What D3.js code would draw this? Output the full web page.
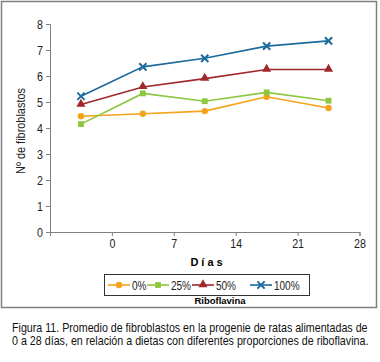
<!DOCTYPE html>
<html>
<head>
<meta charset="utf-8">
<script src="https://cdn.jsdelivr.net/npm/d3@7"></script>
<style>
  body { margin: 0; background: #fff; }
  svg { display: block; }
  text { font-family: "Liberation Sans", Arial, sans-serif; }
</style>
</head>
<body>
<div id="wrapper"></div>
<script>
// datos
const dias = [-3.5, 3.5, 10.5, 17.5, 24.5];
const xTicks = [0, 7, 14, 21, 28];
const yTicks = [0, 1, 2, 3, 4, 5, 6, 7, 8];
const seriesNames = ["0%", "25%", "50%", "100%"];
const serie0 = [4.45, 4.55, 4.65, 5.2, 4.77];
const serie25 = [4.15, 5.33, 5.03, 5.37, 5.05];
const serie50 = [4.9, 5.58, 5.9, 6.25, 6.25];
const serie100 = [5.22, 6.35, 6.68, 7.15, 7.35];
const colores = ["#f4a31b", "#8dc63f", "#a0282c", "#1d6a9c"];

// letra estrecha (tipo Arial Narrow) comprimiendo el texto
function narrow(sel, factor) {
    sel.each(function () {
        const w = this.getComputedTextLength();
        d3.select(this)
            .attr("textLength", w * factor)
            .attr("lengthAdjust", "spacingAndGlyphs");
    });
}

function buildPlot(id) {
    const dimension = {
        width: 380,
        height: 362,
        margin: { top: 24, left: 50, bottom: 130, right: 20 }
    };

    const svg = d3.select("#" + id).append("svg")
        .attr("width", dimension.width)
        .attr("height", dimension.height);

    // marco
    svg.append("rect")
        .attr("x", 1.5).attr("y", 1.5)
        .attr("width", 375).attr("height", 306)
        .attr("fill", "none")
        .attr("stroke", "#808080")
        .attr("stroke-width", 1.5);

    const bounded = svg.append("g")
        .attr("transform", `translate(${dimension.margin.left},${dimension.margin.top})`);

    const xScaler = d3.scaleLinear().domain([-7, 28]).range([0, 309.5]);
    const yScaler = d3.scaleLinear().domain([0, 8]).range([208, 0]);

    const xAxis = d3.axisBottom(xScaler).tickValues(xTicks).tickSize(4).tickPadding(3);
    const yAxis = d3.axisLeft(yScaler).tickValues(yTicks).tickSize(4).tickPadding(3);

    const gx = bounded.append("g")
        .attr("transform", `translate(0,${yScaler(0)})`)
        .call(xAxis);
    const gy = bounded.append("g").call(yAxis);

    [gx, gy].forEach(g => {
        g.select(".domain").attr("stroke", "#808080").attr("stroke-width", 1);
        g.selectAll(".tick line").attr("stroke", "#808080");
        g.selectAll(".tick text").style("font-size", "13px").attr("fill", "#222");
        narrow(g.selectAll(".tick text"), 0.82);
    });

    const allSeries = [serie0, serie25, serie50, serie100];
    const line = d3.line()
        .x((d, i) => xScaler(dias[i]))
        .y(d => yScaler(d));

    function drawMarker(g, k, x, y) {
        if (k === 3) {
            g.append("path")
                .attr("d", d3.symbol().type(d3.symbolTimes).size(36)())
                .attr("transform", `translate(${x},${y})`)
                .attr("fill", "none")
                .attr("stroke", colores[k])
                .attr("stroke-width", 2);
        } else if (k === 0) {
            g.append("circle")
                .attr("cx", x).attr("cy", y).attr("r", 3.2)
                .attr("fill", colores[k]);
        } else if (k === 1) {
            g.append("path")
                .attr("d", d3.symbol().type(d3.symbolSquare).size(34)())
                .attr("transform", `translate(${x},${y})`)
                .attr("fill", colores[k]);
        } else {
            g.append("path")
                .attr("d", d3.symbol().type(d3.symbolTriangle).size(36)())
                .attr("transform", `translate(${x},${y - 0.5})`)
                .attr("fill", colores[k]);
        }
    }

    allSeries.forEach((serie, k) => {
        bounded.append("path")
            .attr("d", line(serie))
            .attr("fill", "none")
            .attr("stroke", colores[k])
            .attr("stroke-width", 1.6);
        serie.forEach((v, i) => drawMarker(bounded, k, xScaler(dias[i]), yScaler(v)));
    });

    // titulos de ejes
    const yTitle = svg.append("text")
        .attr("transform", "translate(25,131)rotate(-90)")
        .attr("text-anchor", "middle")
        .style("font-size", "13px")
        .attr("fill", "#222")
        .text("Nº de fibroblastos");
    yTitle.attr("textLength", 86).attr("lengthAdjust", "spacingAndGlyphs");

    svg.append("text")
        .attr("x", 208).attr("y", 266)
        .attr("text-anchor", "middle")
        .style("font-size", "11px")
        .style("font-weight", "bold")
        .style("letter-spacing", "3px")
        .text("Días");

    // leyenda
    const legend = svg.append("g");
    legend.append("rect")
        .attr("x", 104.5).attr("y", 274.5)
        .attr("width", 205).attr("height", 21)
        .attr("fill", "#fff")
        .attr("stroke", "#333")
        .attr("stroke-width", 1);
    const legX = [108, 147, 192, 250];
    legX.forEach((x0, k) => {
        legend.append("line")
            .attr("x1", x0).attr("x2", x0 + 22)
            .attr("y1", 285).attr("y2", 285)
            .attr("stroke", colores[k])
            .attr("stroke-width", 1.6);
        drawMarker(legend, k, x0 + 11, 285);
        const t = legend.append("text")
            .attr("x", x0 + 24).attr("y", 289.5)
            .style("font-size", "12.5px")
            .attr("fill", "#222")
            .text(seriesNames[k]);
        narrow(t, 0.8);
    });

    svg.append("text")
        .attr("x", 220).attr("y", 304)
        .attr("text-anchor", "middle")
        .style("font-size", "9.5px")
        .style("font-weight", "bold")
        .text("Riboflavina");

    // pie de figura (comprimido en horizontal)
    const caption = [
        "Figura 11. Promedio de fibroblastos en la progenie de ratas alimentadas de",
        "0 a 28 días, en relación a dietas con diferentes proporciones de riboflavina."
    ];
    const capG = svg.append("g").attr("transform", "translate(12,0)");
    caption.forEach((t, i) => {
        const txt = capG.append("text")
            .attr("x", 0).attr("y", 332 + i * 13)
            .style("font-size", "12.5px")
            .attr("fill", "#111")
            .text(t);
        const w = txt.node().getComputedTextLength();
        const target = i === 0 ? 356 : 357;
        txt.attr("transform", `scale(${target / w},1)`);
    });
}

buildPlot("wrapper");
</script>
</body>
</html>
